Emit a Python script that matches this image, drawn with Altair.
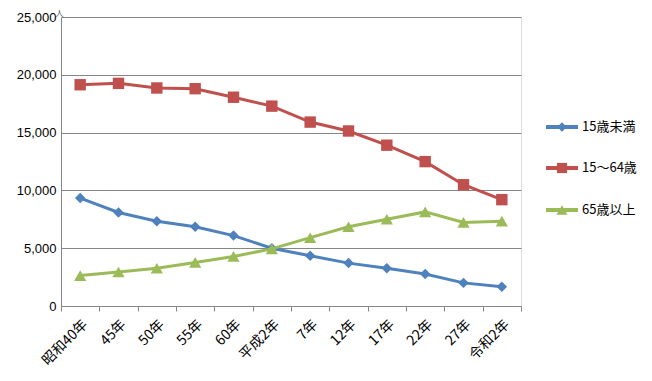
import altair as alt
import pandas as pd

categories = ["昭和40年", "45年", "50年", "55年", "60年", "平成2年", "7年", "12年", "17年", "22年", "27年", "令和2年"]
under15 = [9340, 8090, 7340, 6860, 6090, 5000, 4340, 3710, 3260, 2770, 2000, 1660]
working = [19140, 19260, 18860, 18800, 18060, 17290, 15910, 15140, 13910, 12490, 10490, 9200]
over65 = [2630, 2940, 3260, 3770, 4290, 4940, 5910, 6860, 7510, 8140, 7230, 7340]

series_names = ["15歳未満", "15～64歳", "65歳以上"]
series_values = [under15, working, over65]
colors = ["#4F81BD", "#C0504D", "#9BBB59"]
shapes = ["diamond", "square", "triangle-up"]
sizes = [110, 130, 150]

rows = []
for name, vals in zip(series_names, series_values):
    for c, v in zip(categories, vals):
        rows.append({"cat": c, "series": name, "value": v})
df = pd.DataFrame(rows)

W, H = 460, 289

x_enc = alt.X("cat:N", sort=categories,
              scale=alt.Scale(type="band", paddingInner=0, paddingOuter=0),
              axis=alt.Axis(title=None, labelAngle=-45, labelFont="Noto Sans CJK JP",
                            labelFontSize=14, labelColor="#000", domainColor="#868686",
                            tickColor="#868686", tickSize=5, tickBand="extent",
                            labelPadding=6, grid=False))
y_enc = alt.Y("value:Q", scale=alt.Scale(domain=[0, 25000], nice=False),
              axis=alt.Axis(values=[0, 5000, 10000, 15000, 20000, 25000], format=",.0f",
                            title="人", titleAngle=0, titleX=-6, titleY=0,
                            titleAlign="left", titleBaseline="bottom",
                            titleFont="Noto Sans CJK JP", titleFontSize=8,
                            titleFontWeight="normal", titleColor="#555",
                            labelFont="Liberation Sans", labelFontSize=13, labelColor="#000",
                            labelPadding=5, domainColor="#868686", ticks=False,
                            gridColor="#868686", gridWidth=1))

layers = []
for i, name in enumerate(series_names):
    base = alt.Chart(df).transform_filter(alt.datum.series == name)
    layers.append(base.mark_line(color=colors[i], strokeWidth=3).encode(x=x_enc, y=y_enc))
    layers.append(base.mark_point(color=colors[i], filled=True, opacity=1, shape=shapes[i],
                                  size=sizes[i]).encode(x=x_enc, y=y_enc))

# legend
leg_y = [110, 151, 193]
for i, name in enumerate(series_names):
    one = pd.DataFrame({"series": [name]})
    layers.append(alt.Chart(one).mark_rule(color=colors[i], strokeWidth=4).encode(
        x=alt.value(485), x2=alt.value(517), y=alt.value(leg_y[i])))
    layers.append(alt.Chart(one).mark_point(color=colors[i], filled=True, opacity=1,
                                            shape=shapes[i], size=sizes[i] * 0.8).encode(
        x=alt.value(501), y=alt.value(leg_y[i])))
    layers.append(alt.Chart(one).mark_text(align="left", baseline="middle",
                                           font="Noto Sans CJK JP", fontSize=13,
                                           color="#000").encode(
        text="series:N", x=alt.value(521), y=alt.value(leg_y[i])))

chart = alt.layer(*layers).properties(
    width=W, height=H,
    autosize=alt.AutoSizeParams(type="none"),
    padding={"left": 53, "top": 9, "right": 123, "bottom": 67},
).configure_view(stroke=None).configure(background="white")

chart.save("out.html", embed_options={"renderer": "svg", "actions": False})
